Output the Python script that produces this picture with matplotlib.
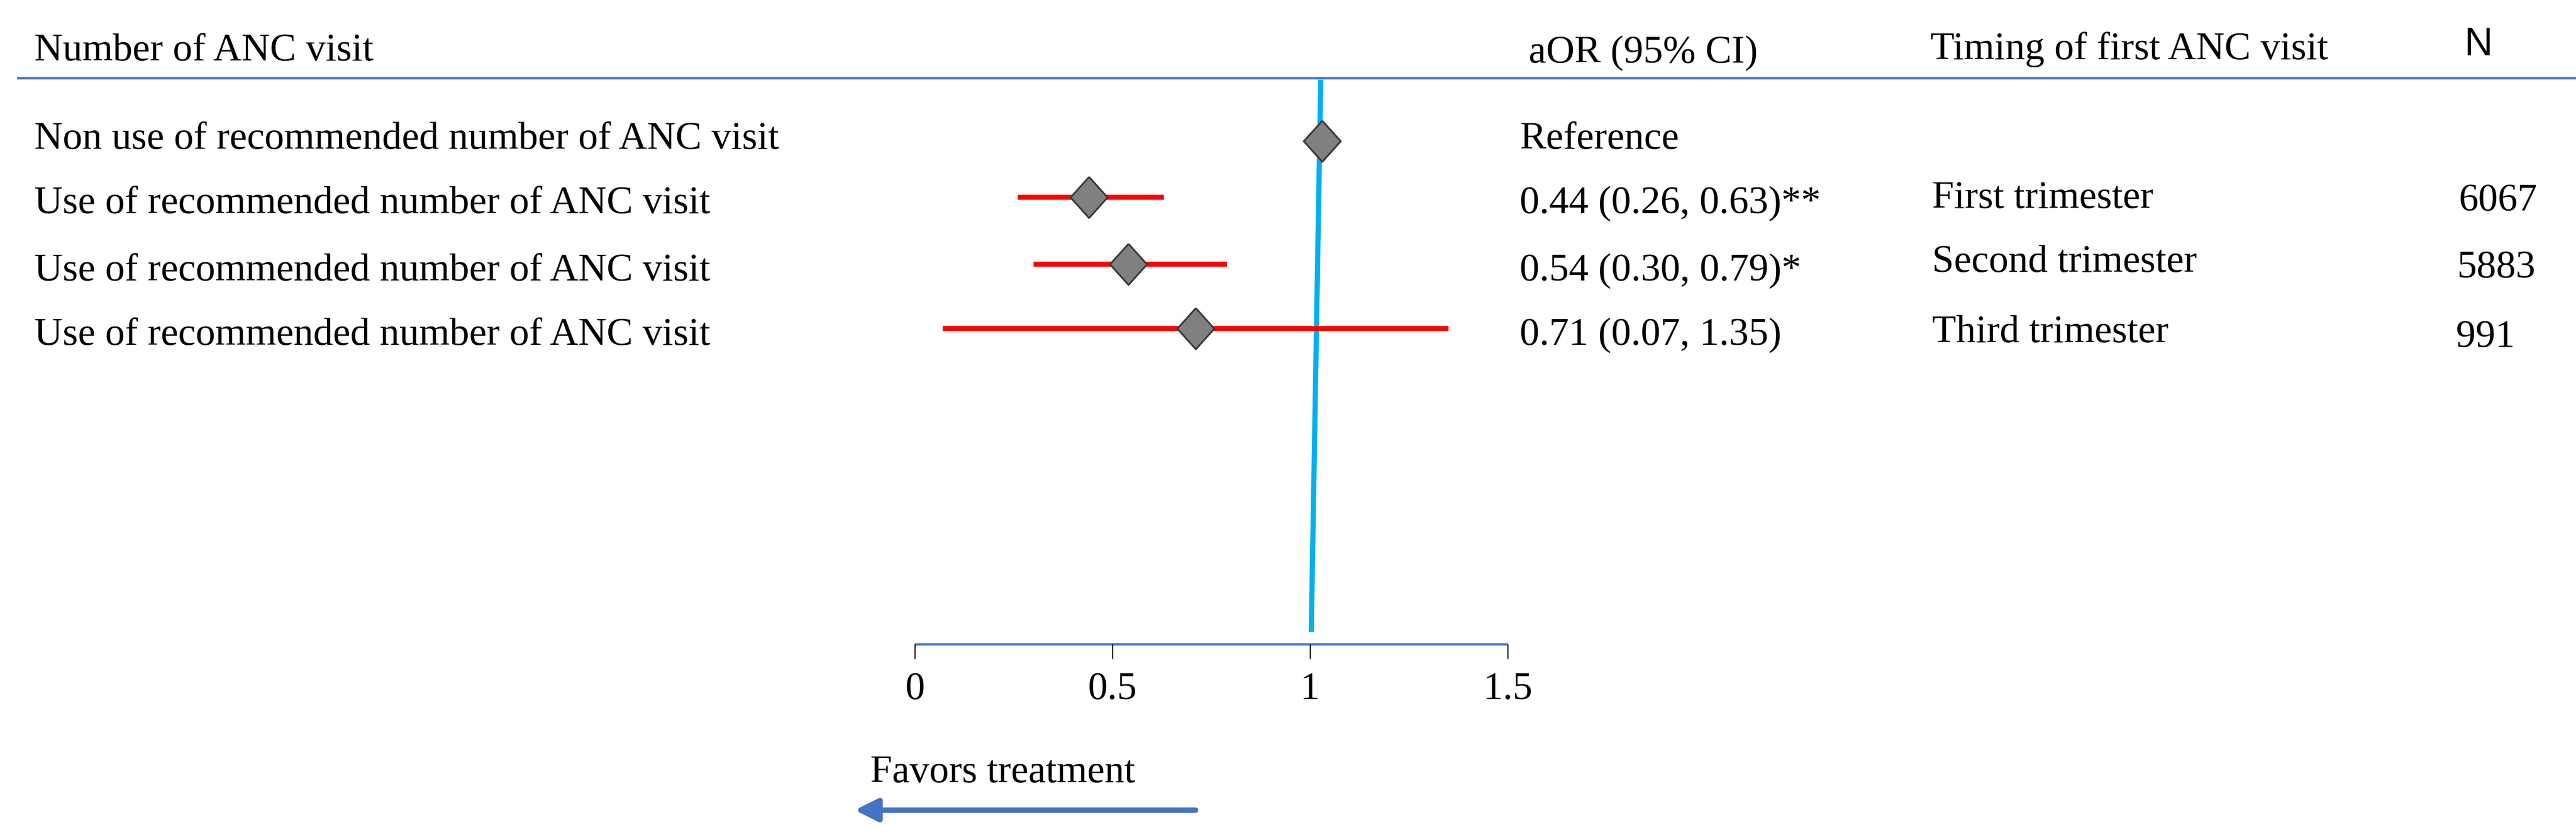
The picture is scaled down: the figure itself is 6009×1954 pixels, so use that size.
import matplotlib
matplotlib.use("Agg")
import matplotlib.pyplot as plt

plt.rcParams['font.family'] = ['Liberation Serif', 'DejaVu Serif']

# data
row_labels = ['Non use of recommended number of ANC visit',
              'Use of recommended number of ANC visit',
              'Use of recommended number of ANC visit',
              'Use of recommended number of ANC visit']
aor = [1.03, 0.44, 0.54, 0.71]
ci_low = [None, 0.26, 0.30, 0.07]
ci_high = [None, 0.63, 0.79, 1.35]
aor_text = ['Reference', '0.44 (0.26, 0.63)**', '0.54 (0.30, 0.79)*', '0.71 (0.07, 1.35)']
timing = ['', 'First trimester', 'Second trimester', 'Third trimester']
n_obs = ['', '6067', '5883', '991']
ticks = [0, 0.5, 1, 1.5]
tick_labels = ['0', '0.5', '1', '1.5']

W, H = 6009, 1954
fig = plt.figure(figsize=(W / 300, H / 300), dpi=300)
ax = fig.add_axes([0, 0, 1, 1])
# x in aOR units (0 -> px 2134, 1 -> px 3056), y in pixels from top
x0, unit = 2134, 922
ax.set_xlim(-x0 / unit, (W - x0) / unit)
ax.set_ylim(H, 0)
ax.axis('off')

def fx(px):
    return px / W

def fy(py):
    return 1 - py / H

row_y = [329, 460, 616, 766]
fs = 22
diamond = [(0, 1), (0.9, 0), (0, -1), (-0.9, 0), (0, 1)]

# header line
ax.axhline(182, xmin=42 / W, xmax=1, color='#4472C4', lw=1.3)

# null line (slightly slanted as in the original)
ax.plot([1.027, 1.003], [186, 1474], color='#00B0F0', lw=2.9, solid_capstyle='butt', zorder=2)

# CI bars and diamonds
for i in range(4):
    if ci_low[i] is not None:
        ax.plot([ci_low[i], ci_high[i]], [row_y[i], row_y[i]], color='#FF0000',
                lw=2.8, solid_capstyle='butt', zorder=3)
    ax.plot(aor[i], row_y[i], marker=diamond, ms=23, mfc='#808080', mec='#3a3a3a',
            mew=1.0, zorder=4)

# x axis
ax.plot([ticks[0], ticks[-1]], [1502, 1502], color='#4472C4', lw=1.3, solid_capstyle='butt')
ax.vlines(ticks, 1502, 1536, color='black', lw=0.6)
for t, lab in zip(ticks, tick_labels):
    ax.text(t, 1630, lab, ha='center', va='baseline', fontsize=fs)

# headers
fig.text(fx(80), fy(141), 'Number of ANC visit', fontsize=fs, va='baseline')
fig.text(fx(3566), fy(146), 'aOR (95% CI)', fontsize=fs, va='baseline')
fig.text(fx(4503), fy(138), 'Timing of first ANC visit', fontsize=fs, va='baseline')
fig.text(fx(5748), fy(129), 'N', fontsize=fs, va='baseline', family=['Liberation Sans', 'DejaVu Sans'])

# row texts
left_base = [347, 497, 654, 804]
timing_base = [0, 485, 634, 798]
n_base = [0, 491, 647, 809]
n_x = [0, 5735, 5731, 5729]
for i in range(4):
    fig.text(fx(80), fy(left_base[i]), row_labels[i], fontsize=fs, va='baseline')
    fig.text(fx(3545), fy(left_base[i]), aor_text[i], fontsize=fs, va='baseline')
    if timing[i]:
        fig.text(fx(4507), fy(timing_base[i]), timing[i], fontsize=fs, va='baseline')
        fig.text(fx(n_x[i]), fy(n_base[i]), n_obs[i], fontsize=fs, va='baseline')

# favours arrow
fig.text(fx(2030), fy(1824), 'Favors treatment', fontsize=fs, va='baseline')
ax.annotate('', xy=(1994, H - 1889), xytext=(2789, H - 1889),
            xycoords='figure pixels', textcoords='figure pixels',
            arrowprops=dict(arrowstyle='-|>', color='#4472C4', lw=3.0,
                            mutation_scale=27, shrinkA=0, shrinkB=0))

fig.savefig('out.png', dpi=300)
